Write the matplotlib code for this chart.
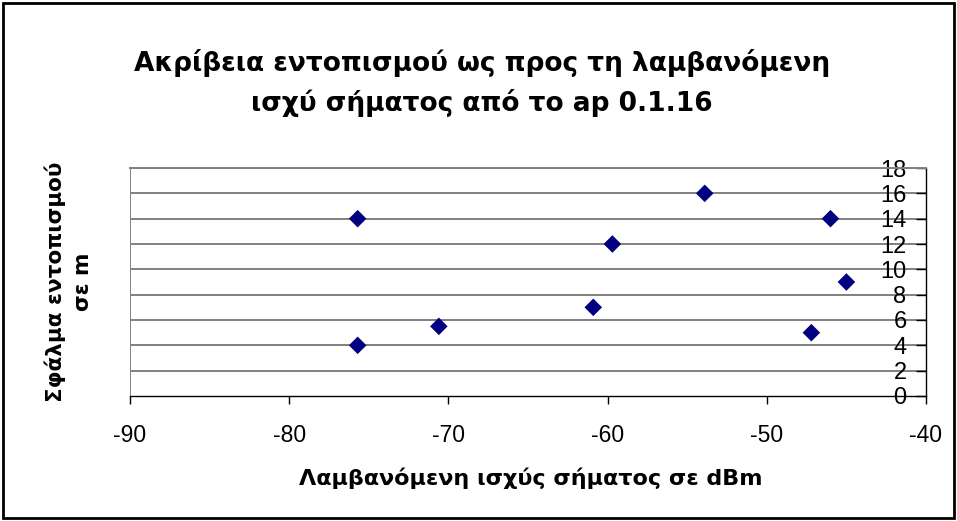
import matplotlib
matplotlib.use("Agg")
import matplotlib.pyplot as plt
from matplotlib.patches import Rectangle

plt.rcParams['font.family'] = ['Liberation Sans', 'DejaVu Sans']

# Received signal strength (dBm) and localisation error (m)
signal_dbm = [-75.7, -75.7, -70.6, -60.9, -59.7, -53.9, -46.0, -47.2, -45.0]
error_m = [14, 4, 5.5, 7, 12, 16, 14, 5, 9]

x_ticks = [-90, -80, -70, -60, -50, -40]
y_ticks = [0, 2, 4, 6, 8, 10, 12, 14, 16, 18]

title = "Ακρίβεια εντοπισμού ως προς τη λαμβανόμενη\nισχύ σήματος από το ap 0.1.16"
x_label = "Λαμβανόμενη ισχύς σήματος σε dBm"
y_label = "Σφάλμα εντοπισμού\nσε m"

W, H = 957, 521
fig = plt.figure(figsize=(W / 100, H / 100), dpi=100)
ax = fig.add_axes([130 / W, 1 - 396 / H, (926 - 130) / W, (396 - 168) / H])

ax.set_xlim(-90, -40)
ax.set_ylim(0, 18)

# horizontal gridlines
for v in y_ticks[1:]:
    ax.axhline(v, color='#808080', lw=1.4, zorder=1)
ax.axvline(-90, color='#808080', lw=1.4, zorder=1)

ax.scatter(signal_dbm, error_m, marker='D', s=80, color='#000080',
           edgecolors='none', zorder=3)

# value axis sits at the right edge, labels on its inner side
ax.spines['left'].set_position(('data', -40))
ax.spines['right'].set_visible(False)
ax.spines['top'].set_color('#808080')
ax.spines['top'].set_linewidth(1.4)
ax.spines['left'].set_color('black')
ax.spines['bottom'].set_color('black')
ax.spines['left'].set_linewidth(1.0)
ax.spines['bottom'].set_linewidth(1.0)

ax.set_xticks(x_ticks)
ax.set_yticks(y_ticks)
ax.tick_params(axis='y', direction='out', length=7, width=1, pad=7,
               labelsize=17)
ax.tick_params(axis='x', direction='out', length=6, width=1, pad=14,
               labelsize=16.5)
ax.set_xticklabels([str(v) for v in x_ticks])
ax.set_yticklabels([str(v) for v in y_ticks])

bold_family = ['DejaVu Sans']
fig.text(482 / W, 1 - 83 / H, title, ha='center', va='center',
         fontsize=19, fontweight='bold', linespacing=1.52, family=bold_family)
fig.text(531 / W, 1 - 478 / H, x_label, ha='center', va='center',
         fontsize=16, fontweight='bold', family=bold_family)
fig.text(69 / W, 1 - 282 / H, y_label, ha='center', va='center',
         fontsize=15.5, fontweight='bold', rotation=90, linespacing=1.45,
         family=bold_family)

# outer frame of the chart
fig.patches.append(Rectangle((3 / W, 3 / H), 1 - 6 / W, 1 - 6 / H,
                             transform=fig.transFigure, fill=False,
                             edgecolor='black', lw=2))

fig.savefig("out.png", dpi=100)
